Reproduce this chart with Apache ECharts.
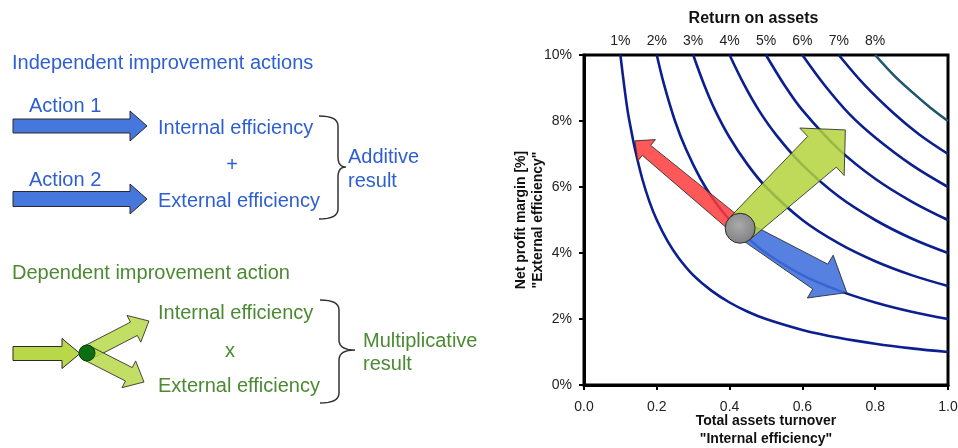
<!DOCTYPE html>
<html>
<head>
<meta charset="utf-8">
<script src="https://cdn.jsdelivr.net/npm/echarts@6/dist/echarts.min.js"></script>
<style>
html,body{margin:0;padding:0;background:#fff;}
#chart{width:958px;height:448px;}
</style>
</head>
<body>
<div id="chart"></div>
<script>
// ---- Data ----
var roaNames = ['1%', '2%', '3%', '4%', '5%', '6%', '7%', '8%'];
var topLabels = ['1%', '2%', '3%', '4%', '5%', '6%', '7%', '8%'];
var yTickLabels = ['0%', '2%', '4%', '6%', '8%', '10%'];
var xTickLabels = ['0.0', '0.2', '0.4', '0.6', '0.8', '1.0'];

// iso-ROA curves: [turnover, net profit margin %]
var curve1 = [[0.10,10],[0.11,9.1],[0.12,8.3],[0.13,7.7],[0.14,7.15],[0.16,6.25],[0.18,5.55],[0.20,5.0],[0.23,4.35],[0.26,3.85],[0.30,3.33],[0.35,2.86],[0.40,2.5],[0.45,2.22],[0.50,2.0],[0.60,1.67],[0.70,1.43],[0.80,1.25],[0.90,1.11],[1.00,1.0]];
var curve2 = [[0.20,10],[0.22,9.1],[0.25,8.0],[0.28,7.15],[0.32,6.25],[0.36,5.55],[0.40,5.0],[0.45,4.45],[0.50,4.0],[0.60,3.33],[0.70,2.86],[0.80,2.5],[0.90,2.22],[1.00,2.0]];
var curve3 = [[0.30,10],[0.33,9.1],[0.36,8.33],[0.40,7.5],[0.45,6.67],[0.50,6.0],[0.60,5.0],[0.70,4.29],[0.80,3.75],[0.90,3.33],[1.00,3.0]];
var curve4 = [[0.40,10],[0.44,9.1],[0.48,8.33],[0.53,7.55],[0.60,6.67],[0.70,5.71],[0.80,5.0],[0.90,4.44],[1.00,4.0]];
var curve5 = [[0.50,10],[0.55,9.1],[0.60,8.33],[0.70,7.14],[0.80,6.25],[0.90,5.56],[1.00,5.0]];
var curve6 = [[0.60,10],[0.66,9.1],[0.73,8.2],[0.80,7.5],[0.90,6.67],[1.00,6.0]];
var curve7 = [[0.70,10],[0.77,9.1],[0.85,8.24],[0.92,7.6],[1.00,7.0]];
var curve8 = [[0.80,10],[0.85,9.4],[0.90,8.89],[0.95,8.42],[1.00,8.0]];
var curves = [curve1, curve2, curve3, curve4, curve5, curve6, curve7, curve8];

// annotation anchors in data space (turnover, margin %)
var ballPt = [0.429, 4.75];
var redTip = [0.14, 7.4];
var blueTip = [0.722, 2.8];
var greenTip = [0.718, 7.73];

var chart = echarts.init(document.getElementById('chart'), null, {renderer: 'canvas'});
var FONT = '"Liberation Sans", Arial, sans-serif';
var CURVE = '#0b1f8f';

var series = curves.map(function (c, i) {
  return {
    name: roaNames[i],
    type: 'line',
    data: c,
    smooth: 0.35,
    showSymbol: false,
    clip: true,
    silent: true,
    z: 2,
    lineStyle: {color: i === 7 ? '#1f5670' : CURVE, width: 2.6}
  };
});

chart.setOption({
  animation: false,
  backgroundColor: '#fff',
  grid: {left: 584, top: 55, width: 364, height: 330, show: true, borderColor: '#000', borderWidth: 3,
    containLabel: false, outerBoundsMode: 'none'},
  xAxis: [{
    type: 'value', min: 0, max: 1, interval: 0.2, position: 'bottom',
    axisLine: {show: true, onZero: false, lineStyle: {color: '#000', width: 3}},
    axisTick: {show: true, inside: false, length: 5, lineStyle: {color: '#000', width: 2}},
    splitLine: {show: false},
    axisLabel: {fontFamily: FONT, fontSize: 14, color: '#222', margin: 15,
      formatter: function (v) { return xTickLabels[Math.round(v * 5)]; }},
    name: 'Total assets turnover\n"Internal efficiency"', nameLocation: 'middle', nameGap: 27,
    nameMoveOverlap: false,
    nameTextStyle: {fontFamily: FONT, fontSize: 14, fontWeight: 'bold', color: '#111', lineHeight: 18}
  }, {
    type: 'value', min: 0, max: 1, interval: 0.1, position: 'top',
    axisLine: {show: false}, axisTick: {show: false}, splitLine: {show: false},
    axisLabel: {fontFamily: FONT, fontSize: 14, color: '#222', margin: 7,
      formatter: function (v) { var k = Math.round(v * 10) - 1; return (k >= 0 && k < topLabels.length) ? topLabels[k] : ''; }}
  }],
  yAxis: [{
    type: 'value', min: 0, max: 10, interval: 2,
    axisLine: {show: true, onZero: false, lineStyle: {color: '#000', width: 3}},
    axisTick: {show: true, inside: false, length: 5, lineStyle: {color: '#000', width: 2}},
    splitLine: {show: false},
    axisLabel: {fontFamily: FONT, fontSize: 14, color: '#222', margin: 12,
      formatter: function (v) { return yTickLabels[Math.round(v / 2)]; }},
    name: 'Net profit margin [%]\n"External efficiency"', nameLocation: 'middle', nameGap: 37, nameRotate: 90,
    nameMoveOverlap: false,
    nameTextStyle: {fontFamily: FONT, fontSize: 14, fontWeight: 'bold', color: '#111', lineHeight: 17}
  }],
  series: series
});

function arrowPts(s, t, w0, w1, hw, hl) {
  var dx = t[0] - s[0], dy = t[1] - s[1];
  var L = Math.sqrt(dx * dx + dy * dy);
  var ux = dx / L, uy = dy / L, nx = -uy, ny = ux;
  var bx = t[0] - ux * hl, by = t[1] - uy * hl;
  return [
    [s[0] + nx * w0 / 2, s[1] + ny * w0 / 2],
    [bx + nx * w1 / 2, by + ny * w1 / 2],
    [bx + nx * hw / 2, by + ny * hw / 2],
    [t[0], t[1]],
    [bx - nx * hw / 2, by - ny * hw / 2],
    [bx - nx * w1 / 2, by - ny * w1 / 2],
    [s[0] - nx * w0 / 2, s[1] - ny * w0 / 2]
  ];
}
function poly(points, fill, opacity, z) {
  return {type: 'polygon', z: z || 10, silent: true,
    shape: {points: points},
    style: {fill: fill, opacity: opacity == null ? 1 : opacity, stroke: '#2a2a2a', lineWidth: 1}};
}
function txt(s, x, y, color, size, align, weight) {
  return {type: 'text', z: 10, silent: true,
    style: {text: s, x: x, y: y, fill: color,
      font: (weight || 'normal') + ' ' + size + 'px ' + FONT,
      align: align || 'left', verticalAlign: 'middle',
      textAlign: align || 'left', textVerticalAlign: 'middle'}};
}
function quad(pts, p0, c, p1) {
  for (var i = 1; i <= 8; i++) {
    var t = i / 8, a = (1 - t) * (1 - t), b = 2 * (1 - t) * t, d = t * t;
    pts.push([a * p0[0] + b * c[0] + d * p1[0], a * p0[1] + b * c[1] + d * p1[1]]);
  }
}
function brace(x0, y0, y1, w, p, ym) {
  var xb = x0 + w, r = 10, pts = [[x0, y0]];
  quad(pts, [x0, y0], [xb, y0], [xb, y0 + r]);
  pts.push([xb, ym - r]);
  quad(pts, [xb, ym - r], [xb, ym], [xb + p, ym]);
  quad(pts, [xb + p, ym], [xb, ym], [xb, ym + r]);
  pts.push([xb, y1 - r]);
  quad(pts, [xb, y1 - r], [xb, y1], [x0, y1]);
  return {type: 'polyline', z: 10, silent: true, shape: {points: pts},
    style: {fill: null, stroke: '#333', lineWidth: 1.5}};
}

var toPx = function (p) { return chart.convertToPixel({xAxisIndex: 0, yAxisIndex: 0}, p); };
var B = toPx(ballPt), R = toPx(redTip), BL = toPx(blueTip), G = toPx(greenTip);

var BLUE_T = '#2e5fd2', GREEN_T = '#4a8a32';
var BLUE_A = '#4677dd', GREEN_A = '#b8d84a';

var g = [];
// left: independent actions
g.push(txt('Independent improvement actions', 12, 63, BLUE_T, 20));
g.push(txt('Action 1', 29, 106, BLUE_T, 20));
g.push(poly(arrowPts([13, 126], [147, 126], 14, 14, 30, 17), BLUE_A, 1));
g.push(txt('Internal efficiency', 158, 128, BLUE_T, 20));
g.push(txt('+', 232, 165, BLUE_T, 20, 'center'));
g.push(txt('Action 2', 29, 180, BLUE_T, 20));
g.push(poly(arrowPts([13, 199], [147, 199], 15, 15, 30, 17), BLUE_A, 1));
g.push(txt('External efficiency', 158, 201, BLUE_T, 20));
g.push(brace(319, 116, 219, 19, 8, 167));
g.push(txt('Additive', 348, 157, BLUE_T, 20));
g.push(txt('result', 348, 181, BLUE_T, 20));
// left: dependent action
g.push(txt('Dependent improvement action', 12, 273, GREEN_T, 20));
g.push(poly(arrowPts([13, 353.5], [80, 353.5], 14, 14, 30, 18), GREEN_A, 1));
g.push(poly(arrowPts([87, 353], [149, 321], 15, 15, 30, 17), GREEN_A, 0.85));
g.push(poly(arrowPts([87, 353], [144, 382], 15, 15, 30, 17), GREEN_A, 0.85));
g.push({type: 'circle', z: 11, silent: true, shape: {cx: 87, cy: 353, r: 8},
  style: {fill: '#0b6e12', stroke: '#0a3d0a', lineWidth: 1}});
g.push(txt('Internal efficiency', 158, 313.5, GREEN_T, 20));
g.push(txt('x', 230, 351, GREEN_T, 20, 'center'));
g.push(txt('External efficiency', 158, 386, GREEN_T, 20));
g.push(brace(320, 300, 403, 19, 16, 350));
g.push(txt('Multiplicative', 363, 341, GREEN_T, 20));
g.push(txt('result', 363, 364, GREEN_T, 20));
// chart title on top axis
g.push(txt('Return on assets', 753.5, 19, '#111', 16, 'center', 'bold'));
// plot arrows
g.push(poly(arrowPts(B, R, 17, 13, 28, 15), '#ff3b3b', 0.85, 12));
g.push(poly(arrowPts(B, BL, 17, 29, 50, 31), '#3f6fdc', 0.88, 12));
g.push(poly(arrowPts(B, G, 30, 42, 65, 32), '#b4d43c', 0.85, 12));
g.push({type: 'circle', z: 14, silent: true, shape: {cx: B[0], cy: B[1], r: 15},
  style: {fill: {type: 'radial', x: 0.45, y: 0.4, r: 0.7, colorStops: [
      {offset: 0, color: '#aaaaaa'}, {offset: 1, color: '#7a7a7a'}]},
    stroke: '#2a2a2a', lineWidth: 1}});

chart.setOption({graphic: {elements: g}});
</script>
</body>
</html>
